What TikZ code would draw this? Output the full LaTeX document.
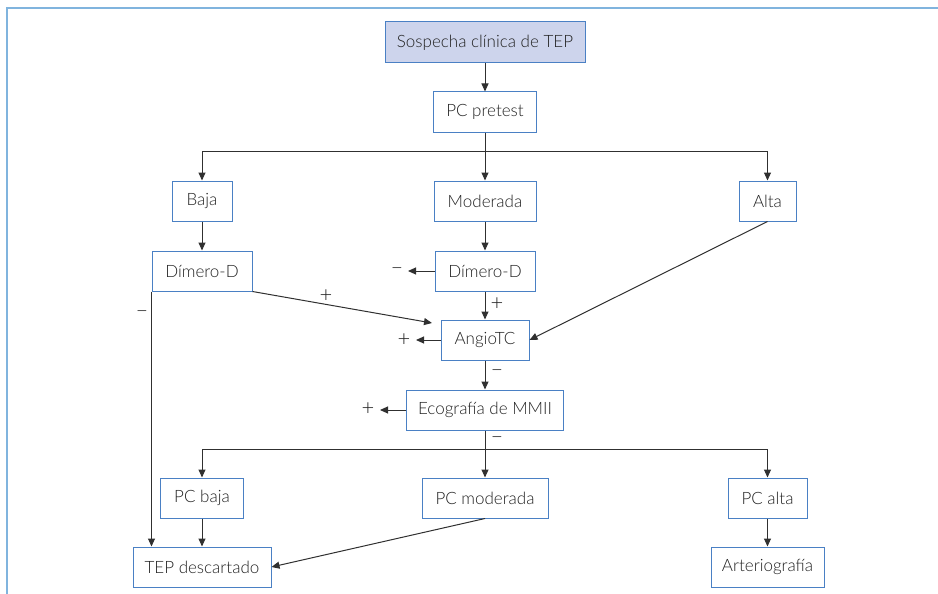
\documentclass[tikz,border=0pt]{standalone}
\usepackage{fontspec}
\setmainfont{Lato}[UprightFont=* Light]
\usetikzlibrary{arrows.meta}
\definecolor{boxblue}{HTML}{4A80C4}
\definecolor{framebl}{HTML}{80B4DE}
\definecolor{fillsos}{HTML}{CDD4EC}
\definecolor{txt}{HTML}{222222}
\definecolor{ln}{HTML}{303030}
\tikzset{
  box/.style={draw=boxblue, line width=1pt, fill=white, minimum height=40pt, inner sep=0pt,
    font=\fontsize{17}{20}\selectfont, text=txt},
  conn/.style={draw=ln, line width=1pt},
  arr/.style={conn, -{Triangle[length=8pt,width=7pt]}},
  sign/.style={font=\fontsize{22}{24}\selectfont, text=txt, inner sep=0pt}
}
\begin{document}
\begin{tikzpicture}[x=1pt,y=-1pt]
\useasboundingbox (0,0) rectangle (938,594);
\draw[framebl, line width=2pt] (938,8.5) -- (7,8.5) -- (7,594);

\node[box, fill=fillsos, minimum width=200pt, minimum height=41pt] (sos) at (485,42.5) {Sospecha clínica de TEP};
\node[box, minimum width=103pt] (pre) at (485,112) {PC pretest};
\node[box, minimum width=60pt] (baja) at (202,201) {Baja};
\node[box, minimum width=102pt] (mod) at (485,201) {Moderada};
\node[box, minimum width=57pt] (alta) at (767.5,201) {Alta};
\node[box, minimum width=100pt] (dd1) at (202,271) {Dímero-D};
\node[box, minimum width=100pt] (dd2) at (485,271) {Dímero-D};
\node[box, minimum width=88pt] (angio) at (485,340) {AngioTC};
\node[box, minimum width=157pt] (eco) at (485,410) {Ecografía de MMII};
\node[box, minimum width=83pt] (pcb) at (202,498) {PC baja};
\node[box, minimum width=126pt] (pcm) at (485,498) {PC moderada};
\node[box, minimum width=79pt] (pca) at (767.5,498) {PC alta};
\node[box, minimum width=138pt] (tep) at (202,567) {TEP descartado};
\node[box, minimum width=113pt] (art) at (767.5,567) {Arteriografía};

\coordinate (split1) at (485,151);
\coordinate (split2) at (485,449);
\coordinate (m1) at (408,271);
\coordinate (p1) at (416,340);
\coordinate (p2) at (380,410);
\coordinate (a1) at (432,323);

\node[sign] (sm1) at (397,271) {–};
\node[sign] (sp0) at (326,296) {+};
\node[sign] (sp1) at (497,304) {+};
\node[sign] (sp2) at (404,340) {+};
\node[sign] (sm2) at (497,373) {–};
\node[sign] (sp3) at (368,409) {+};
\node[sign] (sm3) at (497,440) {–};
\node[sign] (sm4) at (142,314) {–};

\draw[arr] (sos) -- (pre);
\draw[arr] (pre) -- (mod);
\draw[arr] (split1) -| (baja.north);
\draw[arr] (split1) -| (alta.north);
\draw[arr] (baja) -- (dd1);
\draw[arr] (mod) -- (dd2);
\draw[arr] (dd2.west) -- (m1);
\draw[arr] (dd2) -- (angio);
\draw[arr] (dd1.south east) -- (a1);
\draw[arr] (alta.south) -- (angio.east);
\draw[arr] (angio.west) -- (p1);
\draw[arr] (angio) -- (eco);
\draw[arr] (eco.west) -- (p2);
\draw[arr] (eco) -- (pcm);
\draw[arr] (split2) -| (pcb.north);
\draw[arr] (split2) -| (pca.north);
\draw[arr] (pcb) -- (tep);
\draw[arr] (dd1.south west) -- (dd1.south west |- tep.north);
\draw[arr] (pcm.south) -- (tep.east);
\draw[arr] (pca) -- (art);
\end{tikzpicture}
\end{document}
